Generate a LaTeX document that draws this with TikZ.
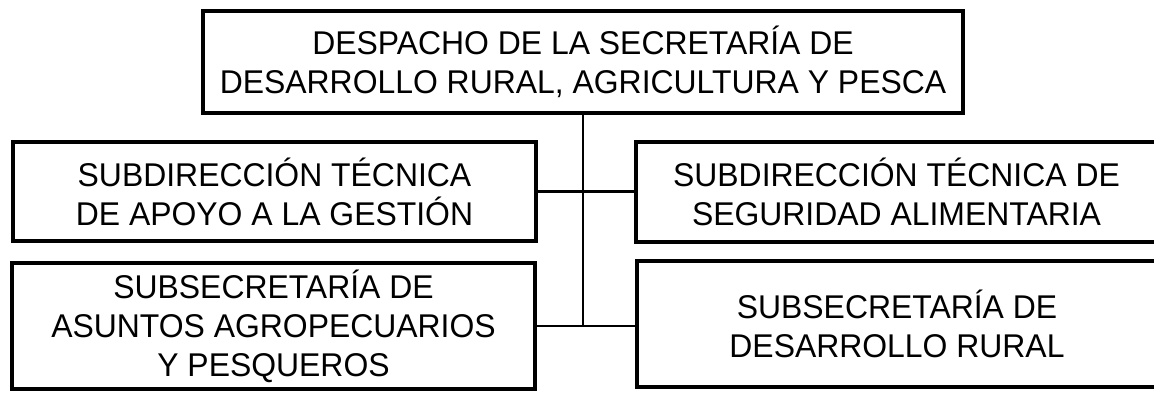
\documentclass[tikz,border=0pt]{standalone}
\usepackage{fontspec}
\setmainfont[FakeStretch=0.97]{Liberation Sans}
\usepackage{tikz}

\begin{document}
\begin{tikzpicture}[line width = 2.1pt,
    box/.style = {rectangle, draw, line width = 2.9pt, align = center, inner sep = 0pt,
        font = \fontsize{23.4}{27.7}\selectfont}]
\useasboundingbox (0,0) rectangle (28.85,9.8);
\draw (14.575,8.25) node[box, minimum width = 19cm, minimum height = 2.55cm](top)
        {DESPACHO DE LA SECRETARÍA DE\\DESARROLLO RURAL, AGRICULTURA Y PESCA}
    (6.8625,5.0125) node[box, minimum width = 13.075cm, minimum height = 2.475cm](sub1)
        {SUBDIRECCIÓN TÉCNICA\\DE APOYO A LA GESTIÓN}
    (22.4125,5.0) node[box, minimum width = 13.025cm, minimum height = 2.5cm](sub2)
        {SUBDIRECCIÓN TÉCNICA DE\\SEGURIDAD ALIMENTARIA}
    (6.8375,1.65) node[box, minimum width = 13.075cm, minimum height = 3.15cm](sec1)
        {SUBSECRETARÍA DE\\ASUNTOS AGROPECUARIOS\\Y PESQUEROS}
    (22.425,1.7) node[box, minimum width = 13cm, minimum height = 3.15cm](sec2)
        {SUBSECRETARÍA DE\\DESARROLLO RURAL};
    \draw [-] (top.south) -- (top.south |- sec1.east);
    \draw [-] (sub1.east) -- (sub1.east -| sub2.west);
    \draw [-] (sec1.east) -- (sec1.east -| sec2.west);
\end{tikzpicture}
\end{document}
